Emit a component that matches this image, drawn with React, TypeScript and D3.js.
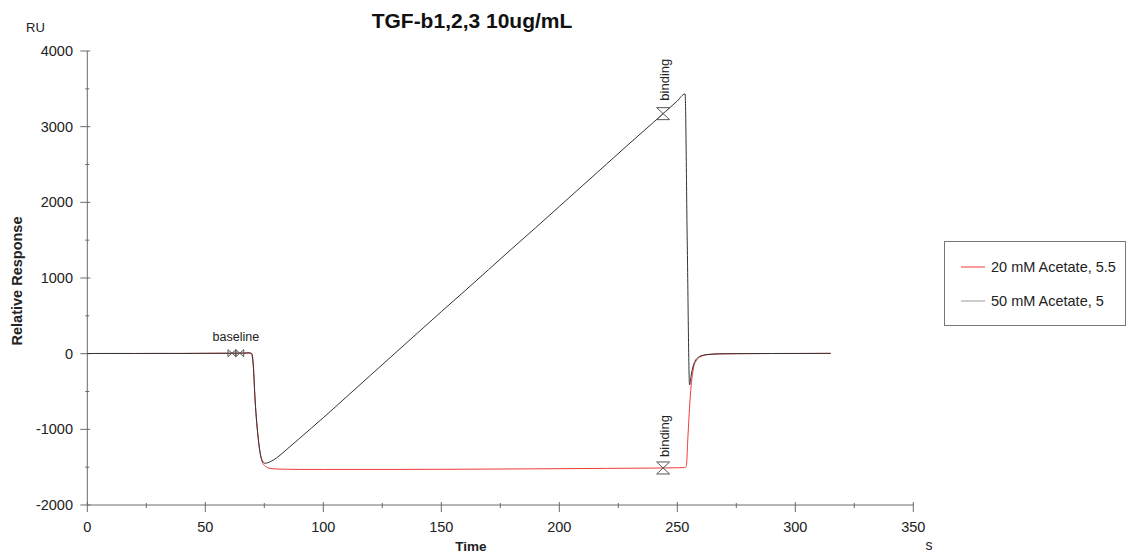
import React from "react";
import * as d3 from "d3";

// ---- data ----
const seriesNames = ["20 mM Acetate, 5.5", "50 mM Acetate, 5"];
const seriesColors = ["#f23a3a", "#333333"];
const legendColors = ["#f23a3a", "#9a9a9a"];

const time20 = [0, 10, 20, 30, 40, 50, 60, 66, 69, 69.8, 70.4, 71.1, 72.5, 74, 75.5, 77.4, 80, 85, 90, 100, 130, 160, 190, 220, 240, 250, 253, 253.8, 254.5, 255.4, 256, 256.8, 258, 260, 263, 268, 275, 290, 305, 315];
const resp20 = [2, 2, 3, 2, 3, 4, 5, 6, 6, 0, -170, -612, -1140, -1420, -1490, -1515, -1524, -1528, -1530, -1530, -1530, -1527, -1522, -1516, -1512, -1508, -1506, -1490, -1100, -612, -380, -200, -95, -38, -12, -3, 0, 2, 3, 4];

const time50 = [0, 10, 20, 30, 40, 50, 60, 66, 68.5, 69.5, 70.3, 71.1, 72.5, 74, 75.3, 76.5, 78, 80, 82.5, 85, 90, 95, 100, 110, 120, 130, 140, 150, 160, 170, 180, 190, 200, 210, 220, 230, 240, 250, 253.3, 254.2, 255.2, 255.8, 256.5, 257.5, 259, 261, 264, 268, 275, 290, 305, 315];
const resp50 = [2, 3, 2, 4, 3, 5, 6, 8, 12, 5, -150, -612, -1140, -1404, -1448, -1442, -1420, -1382, -1320, -1252, -1118, -982, -846, -566, -285, -5, 275, 555, 830, 1110, 1390, 1665, 1945, 2225, 2505, 2785, 3060, 3340, 3433, 1500, -413, -300, -190, -100, -45, -20, -8, -2, 0, 2, 3, 4];

const xTicks = [0, 50, 100, 150, 200, 250, 300, 350];
const xMinorTicks = [25, 75, 125, 175, 225, 275, 325];
const yTicks = [-2000, -1000, 0, 1000, 2000, 3000, 4000];
const yMinorTicks = [-1500, -500, 500, 1500, 2500, 3500];

const baselineMarkerTimes = [61.3, 64.6];
const bindingMarkerTime = 244;

const FONT = "'Liberation Sans', Arial, sans-serif";

function interp(ts: number[], vs: number[], t: number) {
  const i = d3.bisector((d: number) => d).right(ts, t);
  if (i <= 0) return vs[0];
  if (i >= ts.length) return vs[vs.length - 1];
  const t0 = ts[i - 1], t1 = ts[i];
  const f = (t - t0) / (t1 - t0);
  return vs[i - 1] + f * (vs[i] - vs[i - 1]);
}

export default function App() {
  const W = 1127, H = 554;
  const x = d3.scaleLinear().domain([0, 350]).range([87.3, 913.3]);
  const y = d3.scaleLinear().domain([-2000, 4000]).range([505, 51]);
  const lineGen = d3
    .line<[number, number]>()
    .x((d) => x(d[0]))
    .y((d) => y(d[1]))
    .curve(d3.curveMonotoneX);

  const d20 = lineGen(time20.map((t, i) => [t, resp20[i]] as [number, number])) || "";
  const d50 = lineGen(time50.map((t, i) => [t, resp50[i]] as [number, number])) || "";

  const axisColor = "#6a6a6a";
  const x0 = x(0), x1 = x(350), yb = y(-2000), yt = y(4000);

  const bowtie = (cx: number, cy: number, w: number, h: number) =>
    `M${cx - w / 2},${cy - h / 2}L${cx + w / 2},${cy + h / 2}M${cx - w / 2},${cy + h / 2}L${cx + w / 2},${cy - h / 2}M${cx - w / 2},${cy - h / 2}V${cy + h / 2}M${cx + w / 2},${cy - h / 2}V${cy + h / 2}`;
  const hourglass = (cx: number, cy: number, w: number, h: number) =>
    `M${cx - w / 2},${cy - h / 2}L${cx + w / 2},${cy + h / 2}M${cx - w / 2},${cy + h / 2}L${cx + w / 2},${cy - h / 2}M${cx - w / 2},${cy - h / 2}H${cx + w / 2}M${cx - w / 2},${cy + h / 2}H${cx + w / 2}`;

  const bx = x(bindingMarkerTime);
  const byTop = y(interp(time50, resp50, bindingMarkerTime));
  const byBot = y(interp(time20, resp20, bindingMarkerTime));
  const baseY = y(interp(time50, resp50, baselineMarkerTimes[0]));
  const baseCx = (x(baselineMarkerTimes[0]) + x(baselineMarkerTimes[1])) / 2;

  return (
    <svg width={W} height={H} style={{ position: "absolute", left: 0, top: 0, background: "#fff" }} fontFamily={FONT}>
      {/* title */}
      <text x={472} y={28} textAnchor="middle" fontSize={21} fontWeight="bold" fill="#111">
        TGF-b1,2,3 10ug/mL
      </text>
      <text x={26} y={32} fontSize={13} fill="#222">RU</text>

      {/* axes */}
      <line x1={x0} y1={yt} x2={x0} y2={yb} stroke={axisColor} strokeWidth={1} />
      <line x1={x0} y1={yb} x2={x1} y2={yb} stroke={axisColor} strokeWidth={1} />
      {yTicks.map((v) => (
        <g key={"yt" + v}>
          <line x1={x0 - 7} x2={x0 + 3} y1={y(v)} y2={y(v)} stroke={axisColor} />
          <text x={73} y={y(v) + 5} textAnchor="end" fontSize={14.5} fill="#222">{v}</text>
        </g>
      ))}
      {yMinorTicks.map((v) => (
        <line key={"ym" + v} x1={x0 - 2} x2={x0 + 2} y1={y(v)} y2={y(v)} stroke={axisColor} />
      ))}
      {xTicks.map((v) => (
        <g key={"xt" + v}>
          <line x1={x(v)} x2={x(v)} y1={yb - 3} y2={yb + 7} stroke={axisColor} />
          <text x={x(v)} y={532} textAnchor="middle" fontSize={14.5} fill="#222">{v}</text>
        </g>
      ))}
      {xMinorTicks.map((v) => (
        <line key={"xm" + v} x1={x(v)} x2={x(v)} y1={yb - 2} y2={yb + 3} stroke={axisColor} />
      ))}

      <text transform={`translate(22,281) rotate(-90)`} textAnchor="middle" fontSize={14.5} fontWeight="bold" fill="#222">
        Relative Response
      </text>
      <text x={471} y={551} textAnchor="middle" fontSize={13.5} fontWeight="bold" fill="#222">Time</text>
      <text x={929} y={550} textAnchor="middle" fontSize={14} fill="#222">s</text>

      {/* series */}
      <path d={d20} fill="none" stroke={seriesColors[0]} strokeWidth={1} />
      <path d={d50} fill="none" stroke={seriesColors[1]} strokeWidth={1} />

      {/* markers */}
      {baselineMarkerTimes.map((t) => (
        <path key={"bm" + t} d={bowtie(x(t), baseY, 8, 7)} fill="none" stroke="#555" strokeWidth={1} />
      ))}
      <text x={baseCx} y={341} textAnchor="middle" fontSize={12.5} fill="#222">baseline</text>

      <path d={hourglass(bx, byTop, 13, 12)} fill="none" stroke="#555" strokeWidth={1} />
      <text transform={`translate(${bx + 6},${byTop - 13}) rotate(-90)`} fontSize={13} fill="#222">binding</text>
      <path d={hourglass(bx, byBot, 13, 12)} fill="none" stroke="#555" strokeWidth={1} />
      <text transform={`translate(${bx + 6},${byBot - 11}) rotate(-90)`} fontSize={13} fill="#222">binding</text>

      {/* legend */}
      <rect x={944.5} y={241.5} width={181} height={84} fill="#fff" stroke="#777" strokeWidth={1} />
      {seriesNames.map((n, i) => (
        <g key={n}>
          <line x1={961} x2={985} y1={267 + i * 34} y2={267 + i * 34} stroke={legendColors[i]} strokeWidth={1} />
          <text x={991} y={272 + i * 34} fontSize={14.5} fill="#222">{n}</text>
        </g>
      ))}
    </svg>
  );
}
